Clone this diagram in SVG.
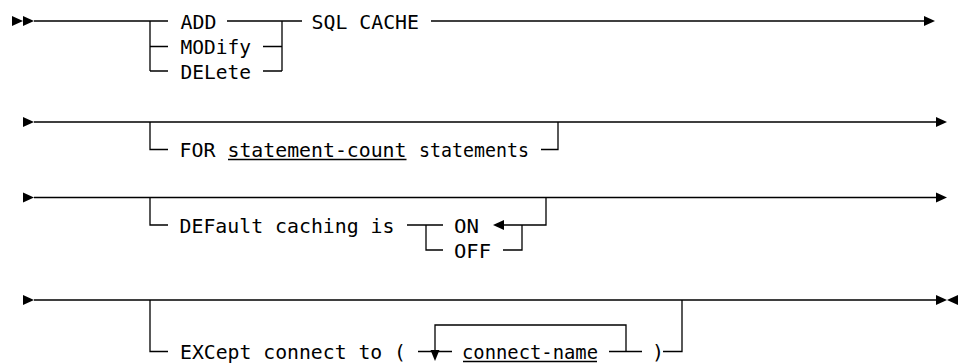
<svg xmlns="http://www.w3.org/2000/svg" width="959" height="364" viewBox="0 0 959 364">
<style>
  .bg { fill: #ffffff; }
  .ln { stroke: #000; stroke-width: 1.3; fill: none; }
  .t { font-family: "DejaVu Sans Mono", "Liberation Mono", monospace; font-size: 20px; fill: #000; }
  .hd { fill: #000; stroke: none; }
</style>
<defs>
  <path id="ar" d="M0,-5 L11,0 L0,5 Z"/>
  <path id="al" d="M0,0 L11,-5 L11,5 Z"/>
  <path id="ad" d="M-4.5,0 L4.5,0 L0,11 Z"/>
</defs>
<rect class="bg" x="0" y="0" width="959" height="364"/>

<g id="connectors">
  <!-- Row 1 -->
  <use href="#ar" class="hd" x="12" y="21"/>
  <use href="#ar" class="hd" x="23" y="21"/>
  <path class="ln" d="M34,21 H168 M150,21 V71 M150,46.5 H168 M150,71 H168"/>
  <path class="ln" d="M227,21 H302 M263,46.5 H282 M263,71 H282 M282,21 V71"/>
  <path class="ln" d="M431,21 H924"/>
  <use href="#ar" class="hd" x="924" y="21"/>

  <!-- Row 2 -->
  <use href="#ar" class="hd" x="23" y="122"/>
  <path class="ln" d="M34,122 H936 M150,122 V149.5 H168 M541,149.5 H558 V122"/>
  <use href="#ar" class="hd" x="936" y="122"/>

  <!-- Row 3 -->
  <use href="#ar" class="hd" x="23" y="197.5"/>
  <path class="ln" d="M34,197.5 H936 M150,197.5 V225 H168"/>
  <path class="ln" d="M407,225 H443 M426,225 V250 H443"/>
  <path class="ln" d="M504,225 H546 V197.5 M503,250 H522 V225"/>
  <use href="#al" class="hd" x="493" y="225"/>
  <use href="#ar" class="hd" x="936" y="197.5"/>

  <!-- Row 4 -->
  <use href="#ar" class="hd" x="23" y="300"/>
  <path class="ln" d="M34,300 H936 M150,300 V351.5 H168"/>
  <path class="ln" d="M418,351.5 H452 M435,351.5 V325 H626 V351.5 M609,351.5 H642"/>
  <use href="#ad" class="hd" x="435" y="350"/>
  <path class="ln" d="M663,351.5 H682 V300"/>
  <use href="#ar" class="hd" x="936" y="300"/>
  <use href="#al" class="hd" x="947" y="300"/>
</g>

<g id="node-add"><text class="t" x="180.5" y="28.5" textLength="36" lengthAdjust="spacingAndGlyphs">ADD</text></g>
<g id="node-modify"><text class="t" x="180.5" y="54" textLength="70.5" lengthAdjust="spacingAndGlyphs">MODify</text></g>
<g id="node-delete"><text class="t" x="180.5" y="78.5" textLength="70.5" lengthAdjust="spacingAndGlyphs">DELete</text></g>
<g id="node-sqlcache"><text class="t" x="311.5" y="28.5" textLength="107.5" lengthAdjust="spacingAndGlyphs">SQL CACHE</text></g>

<g id="node-for">
  <text class="t" x="179.5" y="157" textLength="36" lengthAdjust="spacingAndGlyphs">FOR</text>
  <text class="t" x="227.5" y="157" textLength="179" lengthAdjust="spacingAndGlyphs">statement-count</text>
  <path class="ln" d="M228,159.5 H406.5"/>
  <text class="t" x="419" y="157" textLength="110" lengthAdjust="spacingAndGlyphs">statements</text>
</g>

<g id="node-default"><text class="t" x="179.5" y="232.5" textLength="215" lengthAdjust="spacingAndGlyphs">DEFault caching is</text></g>
<g id="node-on"><text class="t" x="454" y="232.5" textLength="25" lengthAdjust="spacingAndGlyphs">ON</text></g>
<g id="node-off"><text class="t" x="454" y="257.5" textLength="37" lengthAdjust="spacingAndGlyphs">OFF</text></g>

<g id="node-except"><text class="t" x="180" y="359" textLength="226" lengthAdjust="spacingAndGlyphs">EXCept connect to (</text></g>
<g id="node-connectname">
  <text class="t" x="462" y="359" textLength="136" lengthAdjust="spacingAndGlyphs">connect-name</text>
  <path class="ln" d="M463,361.5 H597"/>
</g>
<g id="node-rparen"><text class="t" x="652" y="359">)</text></g>
</svg>
